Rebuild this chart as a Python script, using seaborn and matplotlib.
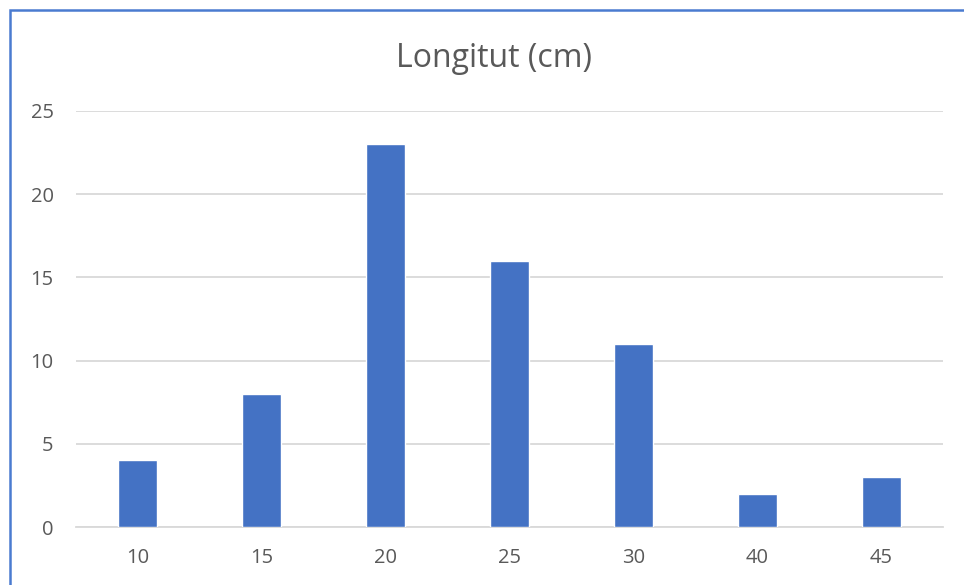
import seaborn as sns
import matplotlib.pyplot as plt
import pandas as pd
from matplotlib.patches import Rectangle

# data
lengths = ["10", "15", "20", "25", "30", "40", "45"]
counts = [4, 8, 23, 16, 11, 2, 3]
y_ticks = [0, 5, 10, 15, 20, 25]

df = pd.DataFrame({"length": lengths, "count": counts})

sns.set_style("white")
plt.rcParams["font.family"] = ["Open Sans", "DejaVu Sans"]

text_color = "#595959"
grid_color = "#D9D9D9"
bar_color = "#4472C4"

fig = plt.figure(figsize=(9.64, 5.85), dpi=100)
ax = fig.add_axes([0.0788, 0.0991, 0.8995, 0.7112])

sns.barplot(data=df, x="length", y="count", color=bar_color, width=0.315,
            saturation=1, ax=ax, zorder=3)

ax.set_ylim(0, 25)
ax.set_yticks(y_ticks)
ax.set_xlim(-0.5, len(lengths) - 0.5)
ax.yaxis.grid(True, color=grid_color, linewidth=1.3, zorder=0)
for s in ["top", "right", "left"]:
    ax.spines[s].set_visible(False)
ax.spines["bottom"].set_color(grid_color)
ax.spines["bottom"].set_linewidth(1.3)
ax.tick_params(axis="both", length=0, labelsize=14.5, colors=text_color)
ax.tick_params(axis="y", pad=16)
ax.tick_params(axis="x", pad=15)
ax.set_xlabel("")
ax.set_ylabel("")

fig.text(0.512, 0.9, "Longitut (cm)", ha="center", va="center",
         fontsize=23, color=text_color)

# chart border
fig.patches.append(Rectangle((10 / 964, -0.05), 1.2, 1 - 10 / 585 + 0.05,
                             transform=fig.transFigure, fill=False,
                             edgecolor="#4A7BD0", linewidth=1.8))

fig.savefig("out.png", dpi=100)
